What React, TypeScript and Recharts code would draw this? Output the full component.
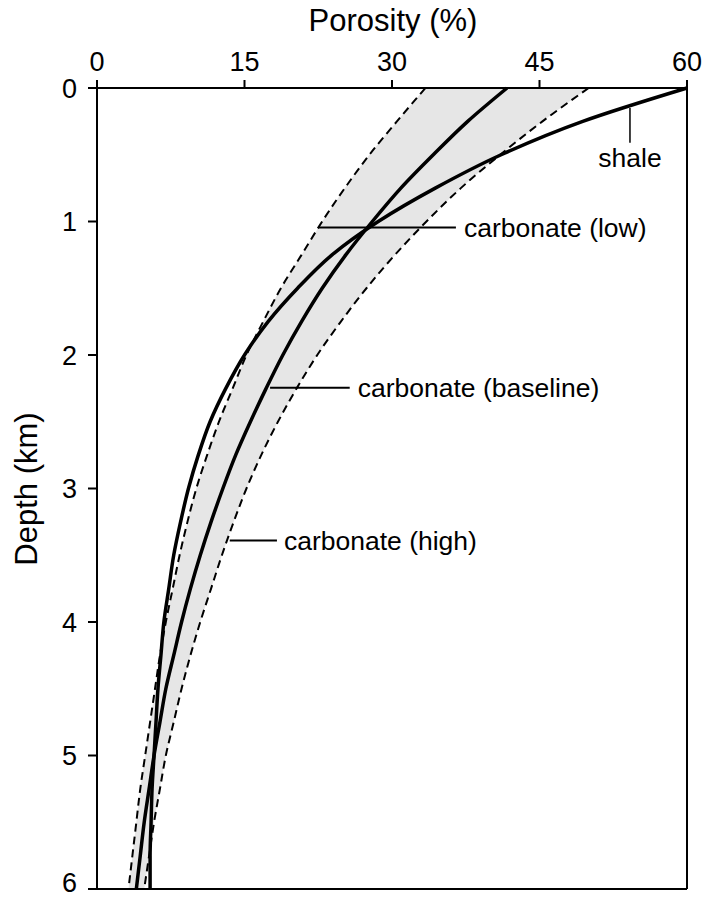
import {
  ComposedChart,
  Area,
  Line,
  XAxis,
  YAxis,
  ReferenceLine,
  Label,
} from 'recharts';

// depth below surface (km), every 250 m
const depthKm = [
  0, 0.25, 0.5, 0.75, 1, 1.25, 1.5, 1.75, 2, 2.25, 2.5, 2.75, 3,
  3.25, 3.5, 3.75, 4, 4.25, 4.5, 4.75, 5, 5.25, 5.5, 5.75, 6,
];

// porosity (%) at each depth
const shale = [
  60, 49.4, 41.1, 34.4, 28.6, 23.9, 20.4, 17.4, 15.0, 13.1, 11.5, 10.3, 9.3,
  8.5, 7.8, 7.3, 6.8, 6.5, 6.2, 6.0, 5.8, 5.6, 5.5, 5.4, 5.4,
];
const carbonateLow = [
  33.4, 30.5, 27.7, 25.2, 22.9, 20.8, 18.7, 16.9, 15.2, 13.8, 12.4, 11.2, 10.1,
  9.2, 8.4, 7.7, 7.0, 6.4, 5.9, 5.4, 4.9, 4.4, 4.0, 3.6, 3.2,
];
const carbonateBaseline = [
  41.7, 37.7, 34.2, 30.9, 28.0, 25.3, 22.9, 20.8, 18.9, 17.2, 15.6, 14.1, 12.8,
  11.6, 10.5, 9.5, 8.6, 7.8, 7.0, 6.4, 5.8, 5.3, 4.8, 4.4, 4.0,
];
const carbonateHigh = [
  50.0, 45.3, 41.0, 37.0, 33.5, 30.3, 27.4, 24.8, 22.4, 20.3, 18.4, 16.7, 15.2,
  13.9, 12.7, 11.6, 10.5, 9.5, 8.6, 7.8, 7.0, 6.4, 5.8, 5.3, 4.8,
];

const porosityTicks = [0, 15, 30, 45, 60];
const depthTicks = [0, 1, 2, 3, 4, 5, 6];

const data = depthKm.map((d, i) => ({
  depth: d,
  shale: shale[i],
  low: carbonateLow[i],
  baseline: carbonateBaseline[i],
  high: carbonateHigh[i],
  band: [carbonateLow[i], carbonateHigh[i]],
}));

const FONT = '"Liberation Sans", Arial, Helvetica, sans-serif';
const labelStyle = { fill: '#000', fontSize: 26.5, fontFamily: FONT };

const PorosityTitle = () => (
  <text x={393} y={31} textAnchor="middle" fontSize={31} fontFamily={FONT} fill="#000">
    Porosity (%)
  </text>
);

const DepthTitle = () => (
  <text
    x={37}
    y={489}
    transform="rotate(-90, 37, 489)"
    textAnchor="middle"
    fontSize={31}
    fontFamily={FONT}
    fill="#000"
  >
    Depth (km)
  </text>
);

export default function App() {
  return (
    <div style={{ position: 'absolute', left: 0, top: 0, background: '#fff' }}>
      <ComposedChart
        width={704}
        height={898}
        data={data}
        layout="vertical"
        margin={{ top: 40, right: 17, bottom: 9, left: 0 }}
      >
        <XAxis
          type="number"
          orientation="top"
          domain={[0, 60]}
          ticks={porosityTicks}
          height={48}
          tickSize={8}
          tickMargin={9}
          axisLine={{ stroke: '#000', strokeWidth: 2 }}
          tickLine={{ stroke: '#000', strokeWidth: 2 }}
          tick={{ fill: '#000', fontSize: 27, fontFamily: FONT }}
        >
          <Label content={<PorosityTitle />} />
        </XAxis>
        <YAxis
          type="number"
          dataKey="depth"
          domain={[0, 6]}
          ticks={depthTicks}
          width={97}
          tickSize={9}
          tickMargin={11}
          axisLine={{ stroke: '#000', strokeWidth: 2 }}
          tickLine={{ stroke: '#000', strokeWidth: 2 }}
          tick={{ fill: '#000', fontSize: 27, fontFamily: FONT }}
        >
          <Label content={<DepthTitle />} />
        </YAxis>

        <Area
          dataKey="band"
          type="monotone"
          fill="#e6e6e6"
          fillOpacity={1}
          stroke="none"
          isAnimationActive={false}
        />
        <Line dataKey="low" type="monotone" stroke="#000" strokeWidth={2} strokeDasharray="8 5" dot={false} isAnimationActive={false} />
        <Line dataKey="high" type="monotone" stroke="#000" strokeWidth={2} strokeDasharray="8 5" dot={false} isAnimationActive={false} />
        <Line dataKey="baseline" type="monotone" stroke="#000" strokeWidth={3.5} dot={false} isAnimationActive={false} />
        <Line dataKey="shale" type="monotone" stroke="#000" strokeWidth={3.5} dot={false} isAnimationActive={false} />

        {/* right and bottom frame */}
        <ReferenceLine x={60} stroke="#000" strokeWidth={2} />
        <ReferenceLine y={6} stroke="#000" strokeWidth={2} />

        {/* leader lines to the curve names */}
        <ReferenceLine
          segment={[{ x: 54.2, y: 0.15 }, { x: 54.2, y: 0.41 }]}
          stroke="#000"
          strokeWidth={1.5}
          label={{ value: 'shale', position: 'bottom', offset: 5, ...labelStyle }}
        />
        <ReferenceLine
          segment={[{ x: 22.5, y: 1.045 }, { x: 36.5, y: 1.045 }]}
          stroke="#000"
          strokeWidth={2}
          label={{ value: 'carbonate (low)', position: 'right', offset: 8, ...labelStyle }}
        />
        <ReferenceLine
          segment={[{ x: 17.6, y: 2.245 }, { x: 25.7, y: 2.245 }]}
          stroke="#000"
          strokeWidth={2}
          label={{ value: 'carbonate (baseline)', position: 'right', offset: 8, ...labelStyle }}
        />
        <ReferenceLine
          segment={[{ x: 13.5, y: 3.39 }, { x: 18.3, y: 3.39 }]}
          stroke="#000"
          strokeWidth={2}
          label={{ value: 'carbonate (high)', position: 'right', offset: 7, ...labelStyle }}
        />
      </ComposedChart>
    </div>
  );
}
